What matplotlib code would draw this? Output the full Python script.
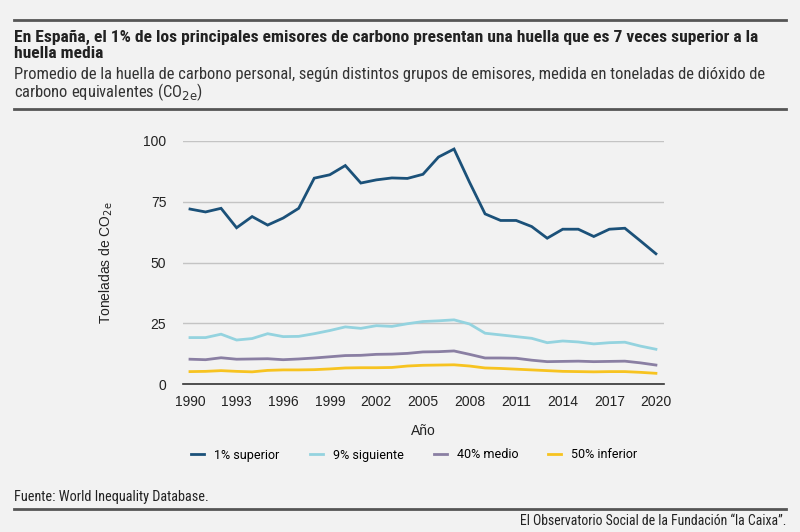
import matplotlib
matplotlib.use('Agg')
import matplotlib.pyplot as plt
from matplotlib.lines import Line2D

years = list(range(1990, 2021))
top1 = [72.0, 70.8, 72.3, 64.3, 68.9, 65.4, 68.3, 72.3, 84.7, 86.1, 89.9, 82.7, 84.0, 84.8, 84.6,
        86.3, 93.4, 96.7, 83.0, 70.0, 67.3, 67.3, 64.8, 60.0, 63.7, 63.7, 60.7, 63.7, 64.1, 58.9, 53.6]
next9 = [19.1, 19.1, 20.5, 18.1, 18.7, 20.7, 19.5, 19.6, 20.7, 22.0, 23.5, 22.9, 24.0, 23.7, 24.8,
         25.7, 26.0, 26.4, 24.7, 20.9, 20.2, 19.5, 18.8, 17.0, 17.7, 17.3, 16.5, 17.0, 17.2, 15.6, 14.3]
mid40 = [10.2, 10.0, 10.8, 10.2, 10.3, 10.4, 10.0, 10.3, 10.7, 11.2, 11.7, 11.8, 12.2, 12.3, 12.6,
         13.2, 13.3, 13.6, 12.2, 10.7, 10.7, 10.6, 9.8, 9.2, 9.3, 9.4, 9.2, 9.3, 9.4, 8.7, 7.8]
bot50 = [5.1, 5.2, 5.5, 5.2, 5.0, 5.6, 5.8, 5.8, 5.9, 6.2, 6.6, 6.7, 6.7, 6.8, 7.4,
         7.7, 7.8, 7.9, 7.4, 6.6, 6.4, 6.1, 5.8, 5.5, 5.2, 5.1, 5.0, 5.1, 5.1, 4.8, 4.4]

labels = ['1% superior', '9% siguiente', '40% medio', '50% inferior']
colors = ['#1b5179', '#94d3df', '#8a7fa3', '#f7c320']
xticks = list(range(1990, 2021, 3))
yticks = [0, 25, 50, 75, 100]

bg = '#f2f2f2'
head_font = ['Liberation Sans Narrow', 'Roboto Condensed', 'DejaVu Sans']
plt.rcParams['font.family'] = ['Liberation Sans', 'DejaVu Sans']

fig = plt.figure(figsize=(8, 5.32), dpi=100, facecolor=bg)
ax = fig.add_axes([183 / 800, 1 - 384 / 532, 481 / 800, 243 / 532], facecolor=bg)

for vals, c, lab in zip([top1, next9, mid40, bot50], colors, labels):
    ax.plot(years, vals, color=c, lw=2, label=lab, solid_joinstyle='miter')

ax.set_xlim(1989.55, 2020.52)
ax.set_ylim(0, 100)
ax.set_xticks(xticks)
ax.set_yticks(yticks)
ax.tick_params(length=0, labelsize=10, colors='#222222', pad=8)
ax.tick_params(axis='y', pad=12)
ax.grid(axis='y', color='#c4c4c4', lw=1)
ax.set_axisbelow(True)
for s in ['top', 'right', 'left']:
    ax.spines[s].set_visible(False)
ax.spines['bottom'].set_color('#333333')
ax.spines['bottom'].set_linewidth(1.2)
ax.set_xlabel('Año', fontsize=10, color='#222222', labelpad=11)
ax.set_ylabel(r'Toneladas de CO$_{\mathrm{2e}}$', fontsize=10, color='#222222', labelpad=20)

handles = [Line2D([], [], color=c, lw=2) for c in colors]
fig.legend(handles, labels, loc='center', bbox_to_anchor=(0.518, 1 - 455 / 532), ncol=4,
           frameon=False, handlelength=1.05, columnspacing=2.4, handletextpad=0.8,
           prop={'family': ['Roboto', 'DejaVu Sans'], 'size': 9})

# rules
fig.add_artist(Line2D([14 / 800, 786 / 800], [1 - 20 / 532] * 2, color='#555555', lw=2))
fig.add_artist(Line2D([14 / 800, 786 / 800], [1 - 109 / 532] * 2, color='#555555', lw=2))
fig.add_artist(Line2D([14 / 800, 786 / 800], [1 - 509 / 532] * 2, color='#555555', lw=2))

fig.text(14 / 800, 1 - 37 / 532,
         'En España, el 1% de los principales emisores de carbono presentan una huella que es 7 veces superior a la',
         fontsize=12.6, fontweight='bold', color='#222222', va='center', family=head_font)
fig.text(14 / 800, 1 - 53 / 532, 'huella media',
         fontsize=12.6, fontweight='bold', color='#222222', va='center', family=head_font)
fig.text(14 / 800, 1 - 75 / 532,
         'Promedio de la huella de carbono personal, según distintos grupos de emisores, medida en toneladas de dióxido de',
         fontsize=11.9, color='#333333', va='center', family=head_font)
fig.text(14 / 800, 1 - 92 / 532, r'carbono equivalentes (CO$_{\mathrm{2e}}$)',
         fontsize=11.9, color='#333333', va='center', family=head_font)
fig.text(14 / 800, 1 - 497 / 532, 'Fuente: World Inequality Database.',
         fontsize=10.3, color='#222222', va='center', family=head_font)
fig.text(786 / 800, 1 - 521 / 532, 'El Observatorio Social de la Fundación “la Caixa”.',
         fontsize=9.9, color='#222222', va='center', ha='right', family=head_font)

fig.savefig('out.png', dpi=100, facecolor=bg)
